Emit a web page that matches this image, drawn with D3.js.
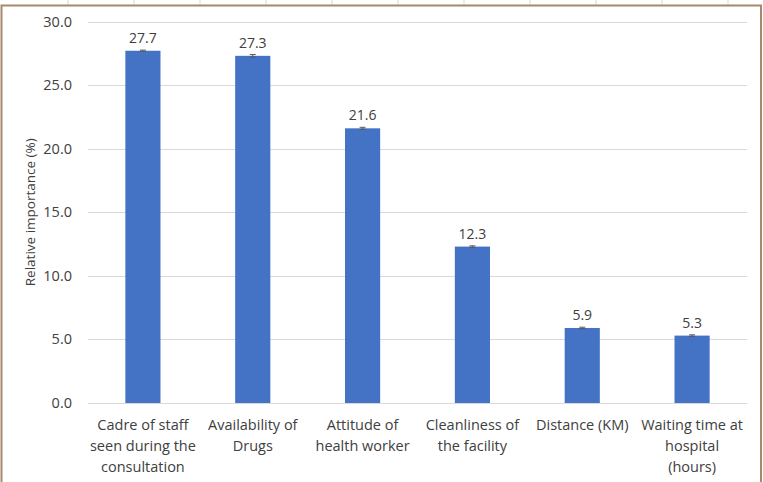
<!DOCTYPE html>
<html>
<head>
<meta charset="utf-8">
<script src="https://cdn.jsdelivr.net/npm/d3@7"></script>
<style>
  body { margin: 0; background: #fff; }
  svg { display: block; font-family: "Open Sans", sans-serif; }
</style>
</head>
<body>
<div id="chart"></div>
<script>
const width = 763, height = 482;

// 数据
const categories = [
  ["Cadre of staff", "seen during the", "consultation"],
  ["Availability of", "Drugs"],
  ["Attitude of", "health worker"],
  ["Cleanliness of", "the facility"],
  ["Distance (KM)"],
  ["Waiting time at", "hospital", "(hours)"]
];
const values = [27.7, 27.3, 21.6, 12.3, 5.9, 5.3];
const errors = [0.05, 0.1, 0.08, 0.06, 0.06, 0.06];
const yTicks = [0, 5, 10, 15, 20, 25, 30];

const margin = {top: 21.5, right: 16, bottom: 79, left: 88};

const svg = d3.select("#chart").append("svg")
  .attr("width", width)
  .attr("height", height);

// 顶部表格线
const cellLines = d3.range(68, width, 66);
svg.append("g").selectAll("line")
  .data(cellLines)
  .join("line")
  .attr("x1", d => d).attr("x2", d => d)
  .attr("y1", 0).attr("y2", 5)
  .attr("stroke", "#d9d9d9");

// 边框
svg.append("path")
  .attr("d", `M1.5,${height} V5.5 H761 V${height}`)
  .attr("fill", "none")
  .attr("stroke", "#a58a6c")
  .attr("stroke-width", 2);

const x = d3.scaleBand()
  .domain(d3.range(values.length))
  .range([margin.left, width - margin.right])
  .paddingInner(0.68)
  .paddingOuter(0.34);

const y = d3.scaleLinear()
  .domain([0, 30])
  .range([height - margin.bottom, margin.top]);

// 网格线
svg.append("g")
  .selectAll("line")
  .data(yTicks)
  .join("line")
  .attr("x1", margin.left)
  .attr("x2", width - margin.right)
  .attr("y1", d => Math.round(y(d)) + 0.5)
  .attr("y2", d => Math.round(y(d)) + 0.5)
  .attr("stroke", "#d9d9d9");

// y轴刻度
svg.append("g")
  .selectAll("text")
  .data(yTicks)
  .join("text")
  .attr("x", 72)
  .attr("y", d => y(d))
  .attr("dy", "0.35em")
  .attr("text-anchor", "end")
  .attr("font-size", 14.5)
  .attr("fill", "#404040")
  .text(d => d.toFixed(1));

svg.append("text")
  .attr("transform", `translate(35,${(y(0) + y(30)) / 2}) rotate(-90)`)
  .attr("text-anchor", "middle")
  .attr("font-size", 13.5)
  .attr("fill", "#404040")
  .text("Relative importance (%)");

// 柱子
svg.append("g")
  .selectAll("rect")
  .data(values)
  .join("rect")
  .attr("x", (d, i) => x(i))
  .attr("y", d => y(d))
  .attr("width", x.bandwidth())
  .attr("height", d => y(0) - y(d))
  .attr("fill", "#4472c4");

// 误差线
const eb = svg.append("g").attr("stroke", "#595959").attr("stroke-width", 1);
values.forEach((v, i) => {
  const cx = x(i) + x.bandwidth() / 2;
  eb.append("line")
    .attr("x1", cx).attr("x2", cx)
    .attr("y1", y(v + errors[i])).attr("y2", y(v - errors[i]));
  [v + errors[i], v - errors[i]].forEach(e => {
    eb.append("line")
      .attr("x1", cx - 3).attr("x2", cx + 3)
      .attr("y1", y(e)).attr("y2", y(e));
  });
});

// 数值标签
svg.append("g")
  .selectAll("text")
  .data(values)
  .join("text")
  .attr("x", (d, i) => x(i) + x.bandwidth() / 2)
  .attr("y", d => y(d) - 8)
  .attr("text-anchor", "middle")
  .attr("font-size", 14)
  .attr("fill", "#404040")
  .text(d => d.toFixed(1));

// 类别标签
const cat = svg.append("g")
  .selectAll("text")
  .data(categories)
  .join("text")
  .attr("x", (d, i) => x(i) + x.bandwidth() / 2)
  .attr("y", 430)
  .attr("text-anchor", "middle")
  .attr("font-size", 14.5)
  .attr("fill", "#404040");

cat.selectAll("tspan")
  .data(d => d)
  .join("tspan")
  .attr("x", function () { return this.parentNode.getAttribute("x"); })
  .attr("dy", (d, i) => i === 0 ? 0 : 21)
  .text(d => d);
</script>
</body>
</html>
